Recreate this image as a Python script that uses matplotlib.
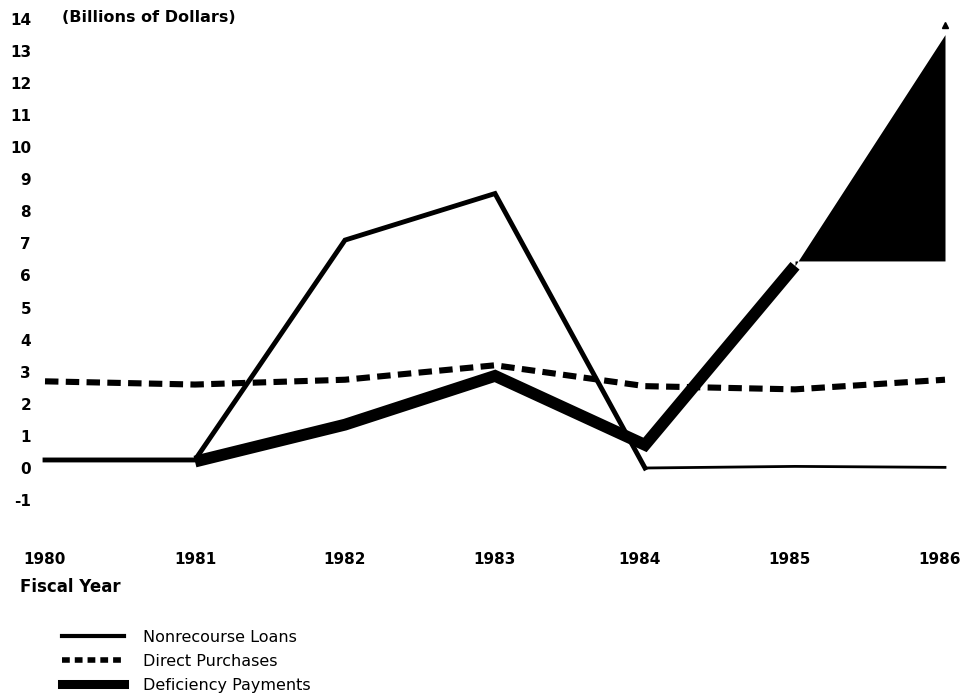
import numpy as np
import matplotlib
matplotlib.use('Agg')
import matplotlib.pyplot as plt
from matplotlib.lines import Line2D
from matplotlib.transforms import ScaledTranslation

years = [1980, 1981, 1982, 1983, 1984, 1985, 1986]
nonrecourse = [0.25, 0.25, 7.1, 8.55, 0.0, 0.05, 0.02]
direct = [2.7, 2.6, 2.75, 3.2, 2.55, 2.45, 2.75]
deficiency = [np.nan, 0.2, 1.35, 2.87, 0.72, 6.3, 13.5]
deficiency_base = 6.45
yticks = list(range(-1, 15))

plt.rcParams['font.family'] = ['DejaVu Sans']

W, H = 963, 698
fig = plt.figure(figsize=(W / 100, H / 100), dpi=100)

# axes placed so 1980 -> x=45px, 1986 -> x=945px, value 0 -> y=468px
x_left, x_right = 45, 945
y0_px, unit = 468, 32.1
ymin, ymax = -2.0, 14.5
top_px = y0_px - unit * ymax
bot_px = y0_px - unit * ymin
ax = fig.add_axes([x_left / W, 1 - bot_px / H, (x_right - x_left) / W, (bot_px - top_px) / H])
ax.set_xlim(1980, 1986)
ax.set_ylim(ymin, ymax)
for s in ax.spines.values():
    s.set_visible(False)

# nonrecourse loans: heavier up to 1984, thin after
ax.plot(years[:5], nonrecourse[:5], color='black', lw=3.5, solid_joinstyle='miter', clip_on=False)
ax.plot(years[4:], nonrecourse[4:], color='black', lw=2.0, clip_on=False)

# direct purchases
ax.plot(years, direct, color='black', lw=4.4, linestyle=(0, (2.2, 1.2)),
        dash_capstyle='butt', clip_on=False)

# deficiency payments
ax.plot(years[:6], deficiency[:6], color='black', lw=8.5, solid_joinstyle='miter',
        solid_capstyle='butt', clip_on=False)
ax.fill_between(years[5:], [deficiency_base, deficiency_base], deficiency[5:],
                color='black', lw=0, clip_on=False)
ax.plot([years[6]], [deficiency[6] + 0.3], marker='^', color='black', ms=4, clip_on=False)

ax.set_yticks(yticks)
ax.set_yticklabels([str(t) for t in yticks])
ax.set_xticks(years)
ax.set_xticklabels([str(y) for y in years])
ax.tick_params(axis='both', length=0, labelsize=11)
ax.tick_params(axis='y', pad=10)
ax.tick_params(axis='x', pad=14)
for lbl in ax.get_yticklabels() + ax.get_xticklabels():
    lbl.set_fontweight('bold')
shift = ScaledTranslation(-5 / 100, 0, fig.dpi_scale_trans)
for lbl in ax.get_xticklabels()[4:]:
    lbl.set_transform(lbl.get_transform() + shift)

fig.text(62 / W, 1 - 18 / H, '(Billions of Dollars)', fontsize=11.5, fontweight='bold',
         ha='left', va='center')
fig.text(20 / W, 1 - 587 / H, 'Fiscal Year', fontsize=12, fontweight='bold',
         ha='left', va='center')

handles = [
    Line2D([], [], color='black', lw=3.0),
    Line2D([], [], color='black', lw=4.0, linestyle=(0, (1.4, 0.9)), dash_capstyle='butt'),
    Line2D([], [], color='black', lw=6.5),
]
labels = ['Nonrecourse Loans', 'Direct Purchases', 'Deficiency Payments']
fig.legend(handles, labels, loc='upper left', bbox_to_anchor=(62 / W, 1 - 630 / H),
           frameon=False, fontsize=11.5, handlelength=3.9, handletextpad=1.2,
           labelspacing=0.55, borderpad=0, borderaxespad=0)

fig.savefig('out.png', dpi=100)
